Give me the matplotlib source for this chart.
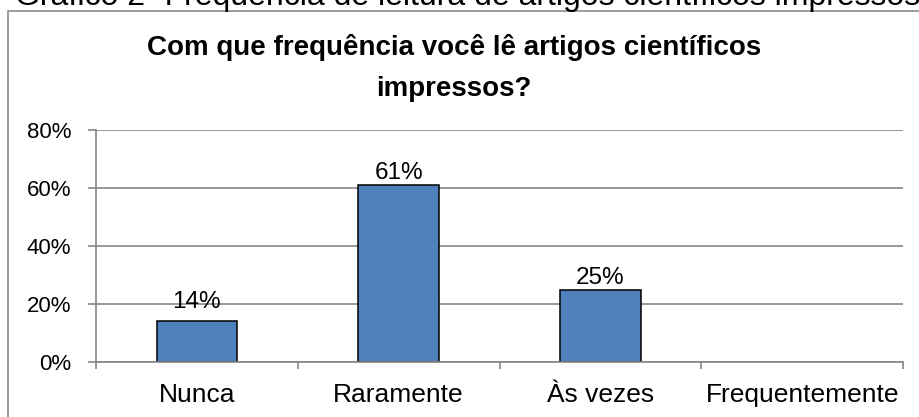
import numpy as np
import matplotlib.pyplot as plt
from matplotlib.patches import Rectangle

plt.rcParams['font.family'] = ['Liberation Sans', 'DejaVu Sans']

categories = ['Nunca', 'Raramente', 'Às vezes', 'Frequentemente']
values = [14, 61, 25, 0]  # percent
yticks = [0, 20, 40, 60, 80]

# vertical gap (points) between bar top and its value label
label_gap = [10, 4.3, 3.6, 4]

W, H = 919, 417
fig = plt.figure(figsize=(W / 100, H / 100), dpi=100)
fig.patch.set_facecolor('white')

# chart frame (cut by the image edges, like the screenshot)
fig.patches.append(Rectangle((8 / W, -0.2), 1.2, 1.2 - 11 / H,
                             transform=fig.transFigure, fill=False,
                             edgecolor='#8c8c8c', lw=1.2))

# caption above the chart, mostly cropped away
fig.text(15 / W, 1 - 4.5 / H,
         'Gráfico 2- Frequência de leitura de artigos científicos impressos',
         fontsize=23, va='baseline', ha='left', color='black')

fig.text(454 / W, 1 - 55 / H, 'Com que frequência você lê artigos científicos',
         fontsize=20, fontweight='bold', ha='center', va='baseline')
fig.text(454 / W, 1 - 96 / H, 'impressos?',
         fontsize=20, fontweight='bold', ha='center', va='baseline')

ax = fig.add_axes([96 / W, 1 - 362 / H, (903 - 96) / W, (362 - 130) / H])
x = np.arange(len(categories))
bars = ax.bar(x, values, width=0.4, color='#4f81bd', edgecolor='black',
              linewidth=1.1, zorder=3)
for b, v in zip(bars, values):
    if v == 0:
        b.set_linewidth(0)

for xi, v, g in zip(x, values, label_gap):
    if v > 0:
        ax.annotate('{}%'.format(v), (xi, v), xytext=(0, g),
                    textcoords='offset points', ha='center', va='baseline',
                    fontsize=17.5)

ax.set_xlim(-0.5, len(categories) - 0.5)
ax.set_ylim(0, 80)
ax.set_yticks(yticks)
ax.set_yticklabels(['{}%'.format(t) for t in yticks])
ax.set_xticks(x)
ax.set_xticklabels(categories)
ax.set_xticks(np.arange(-0.5, len(categories)), minor=True)

ax.grid(axis='y', color='#868686', lw=1.2, zorder=0)
ax.set_axisbelow(True)
for s in ['top', 'right']:
    ax.spines[s].set_visible(False)
for s in ['left', 'bottom']:
    ax.spines[s].set_color('#868686')
    ax.spines[s].set_linewidth(1.2)
    ax.spines[s].set_zorder(4)

ax.tick_params(axis='y', length=6, width=1.2, color='#868686', pad=12,
               labelsize=16)
ax.tick_params(axis='x', which='major', length=0, pad=15, labelsize=19)
ax.tick_params(axis='x', which='minor', length=5, width=1.2,
               color='#868686')

plt.savefig('out.png', dpi=100)
